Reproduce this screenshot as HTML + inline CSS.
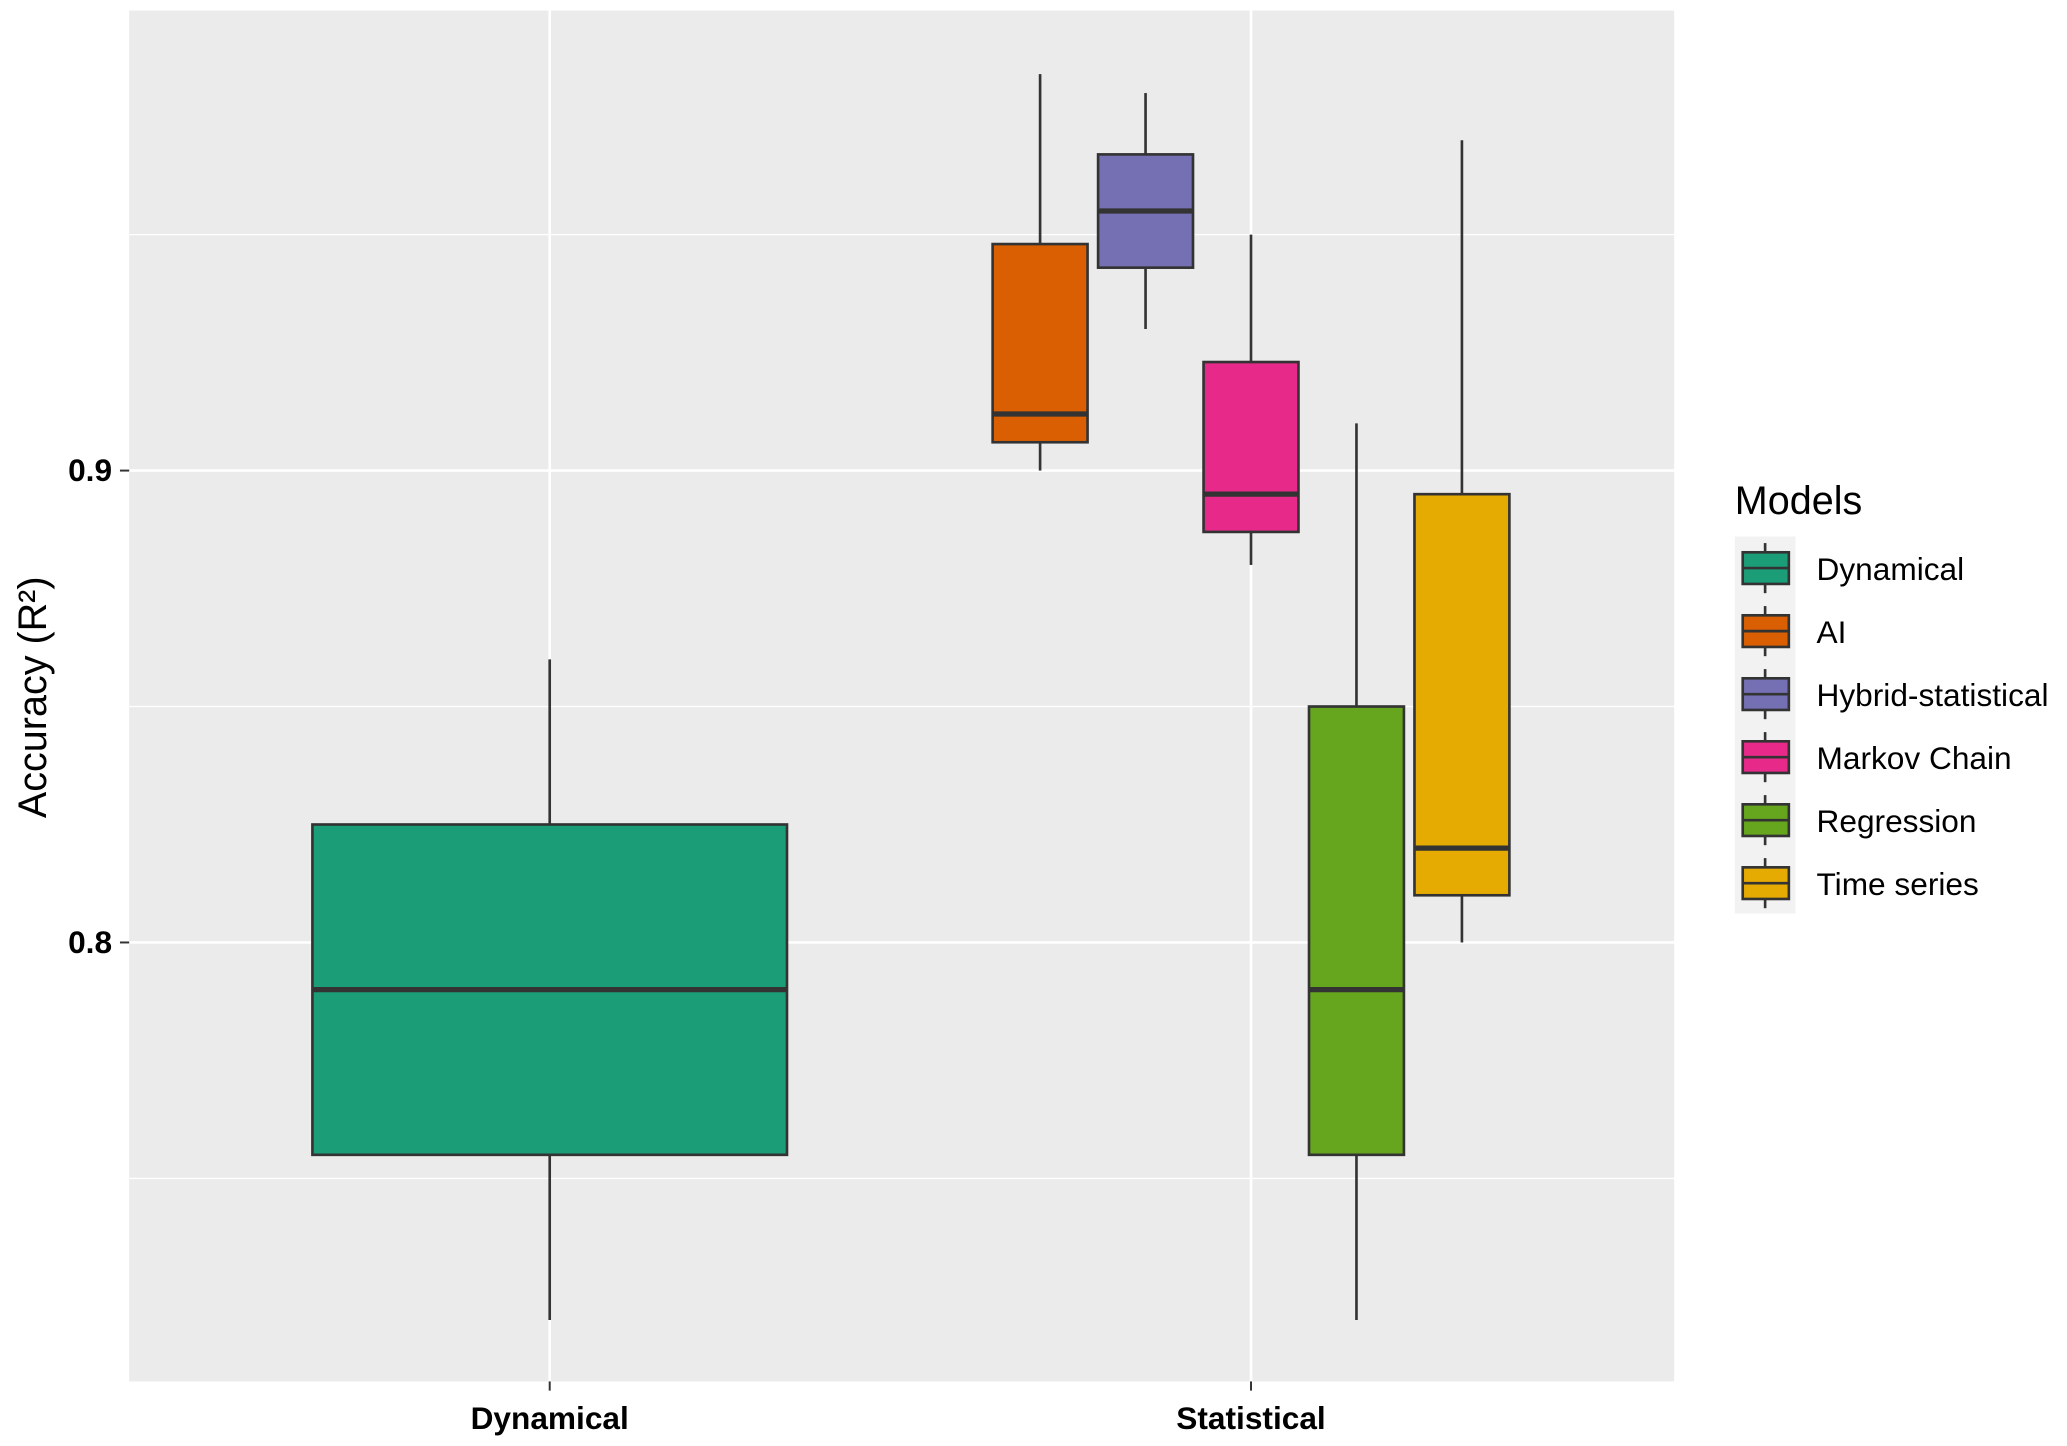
<!DOCTYPE html>
<html><head><meta charset="utf-8"><style>
html,body{margin:0;padding:0;background:#fff;}
svg{display:block;font-family:"Liberation Sans",Arial,sans-serif;}
</style></head><body>
<svg id="chart" width="2067" height="1446" viewBox="0 0 1568 1097" preserveAspectRatio="none" xmlns="http://www.w3.org/2000/svg">
<rect x="98" y="8" width="1172" height="1040" fill="#EBEBEB"/>
<g id="grid"></g>
<g id="boxes"></g>
<g id="axes"></g>
<g id="legend"></g>
</svg>
<script>
const models = ["Dynamical","AI","Hybrid-statistical","Markov Chain","Regression","Time series"];
const groups = ["Dynamical","Statistical","Statistical","Statistical","Statistical","Statistical"];
const colors = ["#1B9E77","#D95F02","#7570B3","#E7298A","#66A61E","#E6AB02"];
const lows = [0.720,0.900,0.930,0.880,0.720,0.800];
const q1s = [0.755,0.906,0.943,0.887,0.755,0.810];
const medians = [0.790,0.912,0.955,0.895,0.790,0.820];
const q3s = [0.825,0.948,0.967,0.923,0.850,0.895];
const highs = [0.860,0.984,0.980,0.950,0.910,0.970];
const categories = ["Dynamical","Statistical"];
const majorTicks = [0.8,0.9];
const minorTicks = [0.75,0.85,0.95];
const tickLabels = ["0.8","0.9"];

const NS="http://www.w3.org/2000/svg";
const y = v => 357 + (0.9 - v) * 3580;
const catX = c => 417 + categories.indexOf(c) * 532;
function mk(parent, tag, attrs){const e=document.createElementNS(NS,tag);for(const k in attrs)e.setAttribute(k,attrs[k]);parent.appendChild(e);return e;}
const grid=document.getElementById('grid');
minorTicks.forEach(t=>{const l=mk(grid,'line',{x1:98,x2:1270,y1:y(t),y2:y(t),stroke:'#fff','stroke-width':1});

});
majorTicks.forEach(t=>{const l=mk(grid,'line',{x1:98,x2:1270,y1:y(t),y2:y(t),stroke:'#fff','stroke-width':2});

});
categories.forEach(c=>{const l=mk(grid,'line',{x1:catX(c),x2:catX(c),y1:8,y2:1048,stroke:'#fff','stroke-width':2});

});

const boxes=document.getElementById('boxes');
const statCount=groups.filter(g=>g==="Statistical").length;
let si=0;
models.forEach((m,i)=>{
  let cx,w;
  if(groups[i]==="Dynamical"){cx=catX("Dynamical");w=360;}
  else{cx=catX("Statistical")+(si-(statCount-1)/2)*80;w=72;si++;}
  const g=mk(boxes,'g',{});
  
  
  mk(g,'line',{x1:cx,x2:cx,y1:y(highs[i]),y2:y(q3s[i]),stroke:'#333','stroke-width':2});
  mk(g,'line',{x1:cx,x2:cx,y1:y(q1s[i]),y2:y(lows[i]),stroke:'#333','stroke-width':2});
  mk(g,'rect',{x:cx-w/2,y:y(q3s[i]),width:w,height:y(q1s[i])-y(q3s[i]),fill:colors[i],stroke:'#333','stroke-width':2});
  mk(g,'line',{x1:cx-w/2,x2:cx+w/2,y1:y(medians[i]),y2:y(medians[i]),stroke:'#333','stroke-width':4});
});

const axes=document.getElementById('axes');
majorTicks.forEach((t,i)=>{
  mk(axes,'line',{x1:91,x2:98,y1:y(t),y2:y(t),stroke:'#333','stroke-width':1.5});
  const tx=mk(axes,'text',{x:85,y:y(t)+8,'text-anchor':'end','font-size':24,'font-weight':'bold',fill:'#000'});
  tx.textContent=tickLabels[i];
  
  
});
categories.forEach(c=>{
  mk(axes,'line',{x1:catX(c),x2:catX(c),y1:1048,y2:1055,stroke:'#333','stroke-width':1.5});
  const tx=mk(axes,'text',{x:catX(c),y:1084,'text-anchor':'middle','font-size':24,'font-weight':'bold',fill:'#000'});
  tx.textContent=c;
  
  
});
const yt=mk(axes,'text',{x:0,y:0,transform:'translate(35,529) rotate(-90)','text-anchor':'middle','font-size':30,fill:'#000'});
yt.textContent='Accuracy (R²)';



const lg=document.getElementById('legend');
const lt=mk(lg,'text',{x:1316,y:390,'font-size':30,fill:'#000'});
lt.textContent='Models';


mk(lg,'rect',{x:1316,y:407,width:46,height:286,fill:'#F2F2F2'});
models.forEach((m,i)=>{
  const cy=431+i*47.8;
  const e=mk(lg,'g',{});
  
  
  mk(e,'line',{x1:1339,x2:1339,y1:cy-19,y2:cy+19,stroke:'#333','stroke-width':2});
  mk(e,'rect',{x:1322,y:cy-12,width:35,height:24,fill:colors[i],stroke:'#333','stroke-width':2});
  mk(e,'line',{x1:1322,x2:1357,y1:cy,y2:cy,stroke:'#333','stroke-width':2});
  const t=mk(e,'text',{x:1378,y:cy+9,'font-size':24,fill:'#000'});
  t.textContent=m;
});
</script>
</body></html>
